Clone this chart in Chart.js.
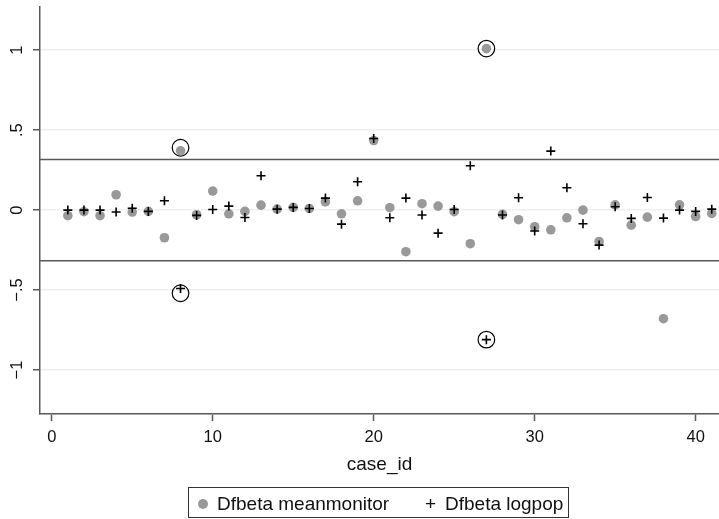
<!DOCTYPE html>
<html>
<head>
<meta charset="utf-8">
<script src="https://cdn.jsdelivr.net/npm/chart.js@4/dist/chart.umd.min.js"></script>
<style>
  body { margin: 0; background: #fff; }
  #wrap { position: relative; width: 719px; height: 519px; }
  #legend {
    position: absolute; left: 188px; top: 487px; width: 379px; height: 29px;
    border: 1px solid #333; font-family: "Liberation Sans", Arial, sans-serif;
    font-size: 19px; color: #111; box-sizing: content-box;
  }
  #legend span { position: absolute; top: 5px; white-space: nowrap; }
  .dot { position: absolute; left: 9px; top: 11px; width: 10px; height: 10px; border-radius: 50%; background: #999; }
</style>
</head>
<body>
<div id="wrap">
  <canvas id="chart"></canvas>
  <div id="legend">
    <div class="dot"></div>
    <span style="left:28px">Dfbeta meanmonitor</span>
    <span style="left:236px">+</span>
    <span style="left:256px">Dfbeta logpop</span>
  </div>
</div>
<script>
// case ids 1..41
const caseIds = [1,2,3,4,5,6,7,8,9,10,11,12,13,14,15,16,17,18,19,20,21,22,23,24,25,26,27,28,29,30,31,32,33,34,35,36,37,38,39,40,41];
const dfbMeanmonitor = [-0.035,-0.01,-0.035,0.096,-0.012,-0.008,-0.173,0.371,-0.029,0.119,-0.023,
  -0.008,0.031,0.006,0.017,0.01,0.052,-0.023,0.058,0.435,0.015,-0.26,0.04,0.025,-0.01,-0.21,
  1.01,-0.027,-0.06,-0.104,-0.123,-0.048,0.0,-0.196,0.033,-0.094,-0.044,-0.679,0.033,-0.04,-0.021];
const dfbLogpop = [0.0,0.0,0.0,-0.012,0.012,-0.008,0.058,-0.49,-0.033,0.004,0.025,
  -0.046,0.215,0.006,0.017,0.01,0.075,-0.088,0.177,0.448,-0.048,0.075,-0.031,-0.144,0.004,0.277,
  -0.81,-0.031,0.077,-0.131,0.369,0.14,-0.085,-0.219,0.021,-0.052,0.079,-0.05,0.0,-0.008,0.006];
// flagged (circled) cases
const flaggedX = [8, 8, 27, 27];
const flaggedY = [0.39, -0.52, 1.01, -0.81];
const cutoff = 0.316;
const yTicks = [-1, -0.5, 0, 0.5, 1];
const yTickLabels = ['\u22121', '\u2212.5', '0', '.5', '1'];
const xTicks = [0, 10, 20, 30, 40];
const xMin = -0.73, xMax = 41.45, yMin = -1.275, yMax = 1.27;

const font = "'Liberation Sans', Arial, sans-serif";
const axisColor = '#595959';

const pts = (xs, ys) => xs.map((x, i) => ({ x: x, y: ys[i] }));

const yLabels = {
  id: 'yLabels',
  afterDraw(chart) {
    const ctx = chart.ctx, y = chart.scales.y;
    ctx.save();
    ctx.font = '16.5px ' + font;
    ctx.fillStyle = '#111';
    ctx.textAlign = 'center';
    ctx.textBaseline = 'alphabetic';
    yTicks.forEach((v, i) => {
      ctx.save();
      ctx.translate(22, y.getPixelForValue(v));
      ctx.rotate(-Math.PI / 2);
      ctx.fillText(yTickLabels[i], 0, 0);
      ctx.restore();
    });
    ctx.restore();
  }
};

new Chart(document.getElementById('chart'), {
  type: 'scatter',
  data: {
    datasets: [
      {
        label: 'Dfbeta logpop',
        data: pts(caseIds, dfbLogpop),
        pointStyle: 'cross', pointRadius: 4.5, pointBorderWidth: 1.6,
        borderColor: '#000', backgroundColor: '#000'
      },
      {
        label: 'Dfbeta meanmonitor',
        data: pts(caseIds, dfbMeanmonitor),
        pointStyle: 'circle', pointRadius: 4.8, pointBorderWidth: 0,
        backgroundColor: '#999', borderColor: '#999'
      },
      {
        label: 'flagged',
        data: pts(flaggedX, flaggedY),
        pointStyle: 'circle', pointRadius: 8.3, pointBorderWidth: 1.2,
        backgroundColor: 'rgba(0,0,0,0)', borderColor: '#000'
      },
      {
        type: 'line', label: 'upper',
        data: [{ x: xMin, y: cutoff }, { x: xMax, y: cutoff }],
        borderColor: axisColor, borderWidth: 1.5, pointRadius: 0
      },
      {
        type: 'line', label: 'lower',
        data: [{ x: xMin, y: -cutoff }, { x: xMax, y: -cutoff }],
        borderColor: axisColor, borderWidth: 1.5, pointRadius: 0
      }
    ]
  },
  options: {
    responsive: true,
    maintainAspectRatio: false,
    animation: false,
    layout: { autoPadding: false, padding: { top: 7, left: 0, right: 0, bottom: 43 } },
    plugins: { legend: { display: false }, tooltip: { enabled: false } },
    scales: {
      x: {
        type: 'linear', min: xMin, max: xMax,
        afterBuildTicks: s => { s.ticks = xTicks.map(v => ({ value: v })); },
        afterFit: s => { s.height = 62; s.paddingLeft = 0; s.paddingRight = 0; },
        ticks: { color: '#111', font: { family: font, size: 16.5 }, padding: 7, maxRotation: 0 },
        grid: { drawOnChartArea: false, drawTicks: true, tickLength: 7, tickColor: axisColor, tickWidth: 1.5 },
        border: { color: axisColor, width: 1.5 },
        title: { display: true, text: 'case_id', color: '#111', font: { family: font, size: 19 }, padding: 0 }
      },
      y: {
        type: 'linear', min: yMin, max: yMax,
        afterBuildTicks: s => { s.ticks = yTicks.map(v => ({ value: v })); },
        afterFit: s => { s.width = 40; s.paddingTop = 0; s.paddingBottom = 0; },
        ticks: { display: false },
        grid: { color: '#efefef', lineWidth: 1.5, drawTicks: true, tickLength: 7, tickColor: axisColor, tickWidth: 1.5 },
        border: { color: axisColor, width: 1.5 }
      }
    }
  },
  plugins: [yLabels]
});
</script>
</body>
</html>
